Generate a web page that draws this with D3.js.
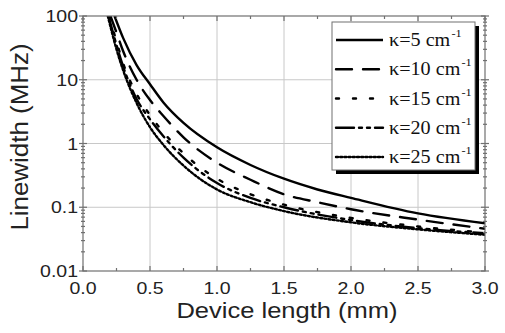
<!DOCTYPE html>
<html>
<head>
<meta charset="utf-8">
<script src="https://cdn.jsdelivr.net/npm/d3@7"></script>
<style>
  body { margin: 0; background: #fff; }
  svg { display: block; }
</style>
</head>
<body>
<svg class="vis" width="505" height="333"></svg>
<script>
// device length (mm) sample points for each curve
const len5  = [0.235, 0.3, 0.4, 0.5, 0.6, 0.75, 1.0, 1.25, 1.5, 1.75, 2.0, 2.5, 3.0];
const lw5   = [100, 45, 17, 8.5, 4.4, 2.1, 0.87, 0.46, 0.28, 0.19, 0.14, 0.08, 0.056];
const len10 = [0.205, 0.25, 0.3, 0.4, 0.5, 0.6, 0.75, 1.0, 1.25, 1.5, 1.75, 2.0, 2.5, 3.0];
const lw10  = [100, 55, 28, 10, 4.8, 2.7, 1.25, 0.5, 0.27, 0.16, 0.12, 0.093, 0.064, 0.046];
const len15 = [0.195, 0.25, 0.3, 0.4, 0.5, 0.6, 0.75, 1.0, 1.25, 1.5, 2.0, 2.5, 3.0];
const lw15  = [100, 40, 18, 6, 2.8, 1.5, 0.7, 0.28, 0.16, 0.11, 0.068, 0.05, 0.04];
const len20 = [0.19, 0.25, 0.3, 0.4, 0.5, 0.6, 0.75, 1.0, 1.25, 1.5, 2.0, 2.5, 3.0];
const lw20  = [100, 35, 16, 5, 2.4, 1.3, 0.6, 0.24, 0.14, 0.1, 0.063, 0.047, 0.039];
const len25 = [0.185, 0.25, 0.3, 0.4, 0.5, 0.6, 0.75, 1.0, 1.25, 1.5, 2.0, 2.5, 3.0];
const lw25  = [100, 30, 14, 4.3, 1.8, 0.95, 0.45, 0.19, 0.12, 0.087, 0.058, 0.045, 0.037];

const kappas = ["5", "10", "15", "20", "25"];
const dashes = [null, "16,11", "3,14", "18,5,3,5,3,5", "2,2.2"];

const xTicks = [0, 0.5, 1.0, 1.5, 2.0, 2.5, 3.0];
const yTicks = [0.01, 0.1, 1, 10, 100];
const yTickLabels = ["0.01", "0.1", "1", "10", "100"];

const series = [
  { k: kappas[0], dash: dashes[0], x: len5,  y: lw5 },
  { k: kappas[1], dash: dashes[1], x: len10, y: lw10 },
  { k: kappas[2], dash: dashes[2], x: len15, y: lw15 },
  { k: kappas[3], dash: dashes[3], x: len20, y: lw20 },
  { k: kappas[4], dash: dashes[4], x: len25, y: lw25 }
];

const svg = d3.select("svg.vis");
const L = 83, R = 485, T = 16, B = 271;

const x = d3.scaleLinear().domain([0, 3]).range([L, R]);
const y = d3.scaleLog().domain([0.01, 100]).range([B, T]);

const axisCol = "#707070";
const gridCol = "#c8c8c8";
const sans = "Liberation Sans, Arial, sans-serif";

// grid
const grid = svg.append("g").attr("stroke", gridCol).attr("stroke-width", 1);
grid.selectAll("line.gx").data(xTicks.slice(1, -1)).join("line")
  .attr("x1", d => x(d)).attr("x2", d => x(d)).attr("y1", T).attr("y2", B);
grid.selectAll("line.gy").data(yTicks.slice(1, -1)).join("line")
  .attr("y1", d => y(d)).attr("y2", d => y(d)).attr("x1", L).attr("x2", R);

// curves
const line = d3.line().x(d => x(d[0])).y(d => y(d[1])).curve(d3.curveMonotoneX);
svg.append("defs").append("clipPath").attr("id", "clip")
  .append("rect").attr("x", L).attr("y", T).attr("width", R - L).attr("height", B - T);

svg.append("g").attr("clip-path", "url(#clip)")
  .selectAll("path")
  .data(series)
  .join("path")
  .attr("d", s => line(s.x.map((v, i) => [v, s.y[i]])))
  .attr("fill", "none")
  .attr("stroke", "#000")
  .attr("stroke-width", 2.4)
  .attr("stroke-linecap", d => d.dash ? "round" : "butt")
  .attr("stroke-dasharray", d => d.dash);

// frame + ticks
const ax = svg.append("g").attr("stroke", axisCol).attr("stroke-width", 1.2).attr("fill", "none");
ax.append("rect").attr("x", L).attr("y", T).attr("width", R - L).attr("height", B - T);

const xMinor = d3.range(0.25, 3, 0.5);
[B, T].forEach((yy, i) => {
  const dir = i === 0 ? -1 : 1;
  ax.selectAll(null).data(xTicks).join("line")
    .attr("x1", d => x(d)).attr("x2", d => x(d)).attr("y1", yy).attr("y2", yy + dir * 5);
  ax.selectAll(null).data(xMinor).join("line")
    .attr("x1", d => x(d)).attr("x2", d => x(d)).attr("y1", yy).attr("y2", yy + dir * 3);
});

const yMinor = [];
[0.01, 0.1, 1, 10].forEach(dec => { for (let m = 2; m <= 9; m++) yMinor.push(dec * m); });
[L, R].forEach(xx => {
  ax.selectAll(null).data(yTicks).join("line")
    .attr("y1", d => y(d)).attr("y2", d => y(d)).attr("x1", xx - 4).attr("x2", xx + 4);
  ax.selectAll(null).data(yMinor).join("line")
    .attr("y1", d => y(d)).attr("y2", d => y(d)).attr("x1", xx - 2).attr("x2", xx + 2);
});

// tick labels
svg.append("g").selectAll("text").data(xTicks).join("text")
  .attr("transform", d => `translate(${x(d)},294) scale(1.22,1)`)
  .attr("text-anchor", "middle")
  .attr("font-family", sans).attr("font-size", 16).attr("fill", "#222")
  .text(d => d.toFixed(1));

svg.append("g").selectAll("text").data(yTicks).join("text")
  .attr("transform", d => `translate(78,${y(d) + 6}) scale(1.22,1)`)
  .attr("text-anchor", "end")
  .attr("font-family", sans).attr("font-size", 16).attr("fill", "#222")
  .text((d, i) => yTickLabels[i]);

// axis titles
svg.append("text")
  .attr("transform", "translate(287,318) scale(1.16,1)")
  .attr("text-anchor", "middle")
  .attr("font-family", sans).attr("font-size", 22).attr("fill", "#222")
  .text("Device length (mm)");

svg.append("text")
  .attr("transform", "translate(28,137) rotate(-90) scale(1.08,1)")
  .attr("text-anchor", "middle")
  .attr("font-family", sans).attr("font-size", 24).attr("fill", "#222")
  .text("Linewidth (MHz)");

// legend
const lg = svg.append("g");
lg.append("rect").attr("x", 336).attr("y", 26).attr("width", 143).attr("height", 148).attr("fill", "#000");
lg.append("rect").attr("x", 332).attr("y", 22).attr("width", 143).attr("height", 148)
  .attr("fill", "#fff").attr("stroke", axisCol).attr("stroke-width", 1);

const rowY = d3.scalePoint().domain(kappas).range([40, 157]);
const items = lg.selectAll("g.item").data(series).join("g")
  .attr("transform", d => `translate(0,${rowY(d.k)})`);
items.append("line")
  .attr("x1", 336).attr("x2", 383).attr("y1", 0).attr("y2", 0)
  .attr("stroke", "#000").attr("stroke-width", 2.4)
  .attr("stroke-linecap", d => d.dash ? "round" : "butt")
  .attr("stroke-dasharray", d => d.dash);
const lt = items.append("text")
  .attr("transform", "translate(389,6) scale(1.12,1)")
  .attr("font-family", "Liberation Serif, Times New Roman, serif")
  .attr("font-size", 18).attr("fill", "#111");
lt.append("tspan").text(d => `\u03ba=${d.k} cm`);
lt.append("tspan").attr("font-size", 11).attr("dy", -9).attr("dx", 1).text("-1");
</script>
</body>
</html>
